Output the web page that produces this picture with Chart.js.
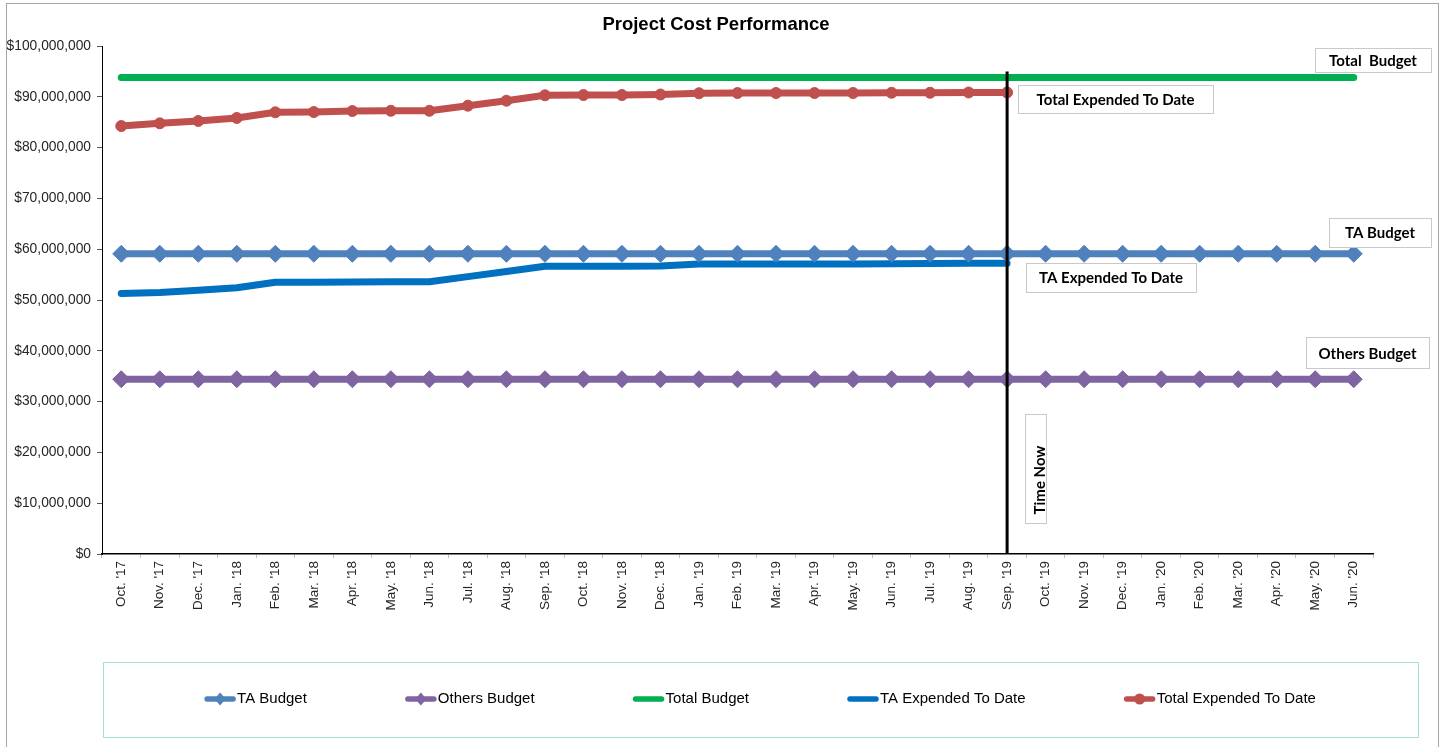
<!DOCTYPE html>
<html><head><meta charset="utf-8">
<script src="https://cdn.jsdelivr.net/npm/chart.js@4.4.1/dist/chart.umd.min.js"></script>
<style>html,body{margin:0;padding:0;background:#fff;overflow:hidden}#wrap{width:1442px;height:747px;position:relative}canvas{display:block}</style>
</head><body><div id="wrap"><canvas id="c" width="1442" height="747"></canvas></div>
<script>
const chartTitle = 'Project Cost Performance';
const months = ["Oct. '17","Nov. '17","Dec. '17","Jan. '18","Feb. '18","Mar. '18","Apr. '18","May. '18","Jun. '18","Jul. '18","Aug. '18","Sep. '18","Oct. '18","Nov. '18","Dec. '18","Jan. '19","Feb. '19","Mar. '19","Apr. '19","May. '19","Jun. '19","Jul. '19","Aug. '19","Sep. '19","Oct. '19","Nov. '19","Dec. '19","Jan. '20","Feb. '20","Mar. '20","Apr. '20","May. '20","Jun. '20"];
const yTickValues = [0,10000000,20000000,30000000,40000000,50000000,60000000,70000000,80000000,90000000,100000000];
const taBudget = [59100000,59100000,59100000,59100000,59100000,59100000,59100000,59100000,59100000,59100000,59100000,59100000,59100000,59100000,59100000,59100000,59100000,59100000,59100000,59100000,59100000,59100000,59100000,59100000,59100000,59100000,59100000,59100000,59100000,59100000,59100000,59100000,59100000];
const othersBudget = [34400000,34400000,34400000,34400000,34400000,34400000,34400000,34400000,34400000,34400000,34400000,34400000,34400000,34400000,34400000,34400000,34400000,34400000,34400000,34400000,34400000,34400000,34400000,34400000,34400000,34400000,34400000,34400000,34400000,34400000,34400000,34400000,34400000];
const totalBudget = [93800000,93800000,93800000,93800000,93800000,93800000,93800000,93800000,93800000,93800000,93800000,93800000,93800000,93800000,93800000,93800000,93800000,93800000,93800000,93800000,93800000,93800000,93800000,93800000,93800000,93800000,93800000,93800000,93800000,93800000,93800000,93800000,93800000];
const taExpended = [51300000,51500000,51900000,52400000,53500000,53500000,53550000,53600000,53600000,54600000,55600000,56650000,56650000,56650000,56700000,57100000,57100000,57100000,57100000,57100000,57150000,57200000,57250000,57250000];
const totalExpended = [84250000,84780000,85240000,85830000,86950000,87000000,87200000,87250000,87250000,88250000,89230000,90300000,90350000,90350000,90450000,90700000,90750000,90750000,90750000,90750000,90800000,90800000,90850000,90850000];
const seriesNames = ['TA Budget','Others Budget','Total Budget','TA Expended To Date','Total Expended To Date'];
const timeNowLabel = "Sep. '19";
const timeNowTopValue = 95000000;

const ARIAL = '"Liberation Sans", Arial, sans-serif';
const CALIBRI = 'Lato, "Open Sans", sans-serif';

function fmtMoney(v){ return '$' + Math.round(v).toLocaleString('en-US'); }

const decor = {
  id: 'decor',
  beforeDraw(chart){
    const ctx = chart.ctx;
    ctx.save(); ctx.fillStyle = '#fff'; ctx.fillRect(0,0,chart.width,chart.height); ctx.restore();
  },
  afterDatasetsDraw(chart){
    const ctx = chart.ctx, xs = chart.scales.x, ys = chart.scales.y, W = chart.width;
    const tnX = xs.getPixelForValue(months.indexOf(timeNowLabel));
    ctx.save();
    ctx.strokeStyle = '#000'; ctx.lineWidth = 3;
    ctx.beginPath(); ctx.moveTo(tnX, ys.getPixelForValue(timeNowTopValue)); ctx.lineTo(tnX, ys.getPixelForValue(0)); ctx.stroke();
    ctx.restore();
    const last = a => a[a.length-1];
    const boxes = [
      {text:'Total  Budget', left: W-127, w:116, h:24, cy: ys.getPixelForValue(last(totalBudget)) - 17},
      {text:'Total Expended To Date', left: tnX+11, w:195, h:28, cy: ys.getPixelForValue(last(totalExpended)) + 7},
      {text:'TA Budget', left: W-113, w:102, h:29, cy: ys.getPixelForValue(last(taBudget)) - 21.5},
      {text:'TA Expended To Date', left: tnX+19, w:170, h:29, cy: ys.getPixelForValue(last(taExpended)) + 14},
      {text:'Others Budget', left: W-136, w:123, h:31, cy: ys.getPixelForValue(last(othersBudget)) - 26.5}
    ];
    ctx.save();
    ctx.font = 'bold 15px ' + CALIBRI;
    ctx.textAlign = 'center'; ctx.textBaseline = 'middle';
    boxes.forEach(b => {
      const top = Math.round(b.cy - b.h/2);
      ctx.fillStyle = '#fff'; ctx.fillRect(Math.round(b.left), top, b.w, b.h);
      ctx.strokeStyle = '#c9c9c9'; ctx.lineWidth = 1;
      ctx.strokeRect(Math.round(b.left)+0.5, top+0.5, b.w, b.h);
      ctx.fillStyle = '#000';
      ctx.fillText(b.text, Math.round(b.left) + b.w/2, b.cy + 1);
    });
    const y0 = ys.getPixelForValue(0);
    const tl = Math.round(tnX + 18), tt = Math.round(y0 - 140);
    ctx.fillStyle = '#fff'; ctx.fillRect(tl, tt, 21, 109);
    ctx.strokeStyle = '#c9c9c9'; ctx.strokeRect(tl+0.5, tt+0.5, 21, 109);
    ctx.translate(tnX + 33, y0 - 74);
    ctx.rotate(-Math.PI/2);
    ctx.fillStyle = '#000';
    ctx.fillText('Time Now', 0, 0);
    ctx.restore();
  },
  afterDraw(chart){
    const ctx = chart.ctx, ca = chart.chartArea, W = chart.width;
    ctx.save();
    // title
    ctx.fillStyle = '#000'; ctx.font = 'bold 18.5px ' + ARIAL;
    ctx.textAlign = 'center'; ctx.textBaseline = 'middle';
    ctx.fillText(chartTitle, W/2 - 5, ca.top - 21);
    // outer frame
    ctx.strokeStyle = '#a6a6a6'; ctx.lineWidth = 1;
    ctx.strokeRect(6.5, 3.5, W - 10, 800);
    // legend
    const lLeft = ca.left + 1, lRight = W - 24, lTop = ca.bottom + 108, lH = 75;
    ctx.strokeStyle = '#a3e4c3'; ctx.lineWidth = 1;
    ctx.strokeRect(lLeft + 0.5, lTop + 0.5, lRight - lLeft, lH);
    ctx.font = '15px ' + ARIAL;
    const ds = chart.data.datasets;
    const markW = 30, tgap = 2, gap = 99;
    const widths = ds.map(d => markW + tgap + ctx.measureText(d.label).width);
    const total = widths.reduce((a,b)=>a+b,0) + gap*(ds.length-1);
    let x = (lLeft + lRight)/2 - total/2;
    const cy = lTop + lH/2 - 0.5;
    ds.forEach((d,i) => {
      ctx.strokeStyle = d.borderColor; ctx.lineWidth = 5.5; ctx.lineCap = 'round';
      ctx.beginPath(); ctx.moveTo(x+2, cy); ctx.lineTo(x+markW-2, cy); ctx.stroke();
      const mx = x + markW/2;
      ctx.fillStyle = d.borderColor;
      if (d.pointStyle === 'rectRot' && d.pointRadius > 0) {
        const r = 6.5;
        ctx.beginPath(); ctx.moveTo(mx - r*0.85, cy); ctx.lineTo(mx, cy - r); ctx.lineTo(mx + r*0.85, cy); ctx.lineTo(mx, cy + r); ctx.closePath(); ctx.fill();
      } else if (d.pointStyle === 'circle' && d.pointRadius > 0) {
        ctx.beginPath(); ctx.arc(mx, cy, 5.5, 0, Math.PI*2); ctx.fill();
      }
      ctx.fillStyle = '#000'; ctx.textAlign = 'left'; ctx.textBaseline = 'middle';
      ctx.fillText(d.label, x + markW + tgap, cy);
      x += widths[i] + gap;
    });
    ctx.restore();
  }
};

const lineBase = {borderWidth: 7, tension: 0, borderCapStyle: 'round', borderJoinStyle: 'round', fill: false, spanGaps: false};

new Chart(document.getElementById('c'), {
  type: 'line',
  data: {
    labels: months,
    datasets: [
      Object.assign({}, lineBase, {label: seriesNames[0], data: taBudget, borderColor: '#4F81BD', backgroundColor: '#4F81BD', pointStyle: 'rectRot', pointRadius: 8.5, pointBorderWidth: 1, pointBackgroundColor: '#4F81BD', pointBorderColor: '#4F81BD', order: 1}),
      Object.assign({}, lineBase, {label: seriesNames[1], data: othersBudget, borderColor: '#8064A2', backgroundColor: '#8064A2', pointStyle: 'rectRot', pointRadius: 8.5, pointBorderWidth: 1, pointBackgroundColor: '#8064A2', pointBorderColor: '#8064A2', order: 2}),
      Object.assign({}, lineBase, {label: seriesNames[2], data: totalBudget, borderColor: '#00B050', backgroundColor: '#00B050', pointStyle: 'circle', pointRadius: 0, order: 3}),
      Object.assign({}, lineBase, {label: seriesNames[3], data: taExpended, borderColor: '#0070C0', backgroundColor: '#0070C0', pointStyle: 'circle', pointRadius: 0, order: 2}),
      Object.assign({}, lineBase, {label: seriesNames[4], data: totalExpended, borderColor: '#C0504D', backgroundColor: '#C0504D', pointStyle: 'circle', pointRadius: 5.5, pointBorderWidth: 1, pointBackgroundColor: '#C0504D', pointBorderColor: '#C0504D', order: 1})
    ]
  },
  options: {
    responsive: false,
    animation: false,
    devicePixelRatio: 1,
    events: [],
    layout: {padding: {left: 6, right: 69, top: 46, bottom: 0}},
    plugins: {
      legend: {display: false},
      tooltip: {enabled: false},
      title: {display: false}
    },
    scales: {
      x: {
        offset: true,
        afterFit: s => { s.height = 193; },
        grid: {offset: true, drawOnChartArea: false, drawTicks: true, tickLength: 4, color: '#bfbfbf'},
        border: {display: true, color: '#000', width: 1.5},
        ticks: {autoSkip: false, minRotation: 90, maxRotation: 90, padding: 3, color: '#262626', font: {family: ARIAL, size: 13.5}}
      },
      y: {
        min: 0, max: 100000000,
        afterFit: s => { s.width = 96; },
        afterBuildTicks: s => { s.ticks = yTickValues.map(v => ({value: v})); },
        grid: {drawOnChartArea: false, drawTicks: true, tickLength: 5, color: '#595959'},
        border: {display: true, color: '#000', width: 1},
        ticks: {padding: 6, color: '#262626', font: {family: ARIAL, size: 13.8}, callback: v => fmtMoney(v)}
      }
    }
  },
  plugins: [decor]
});
</script>
</body></html>
